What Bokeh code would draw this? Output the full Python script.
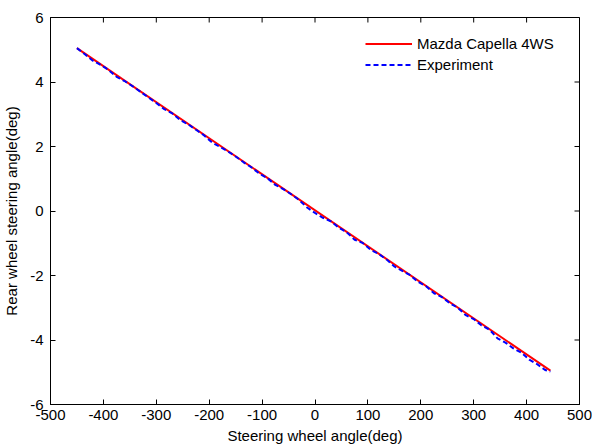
import math
from bokeh.plotting import figure
from bokeh.models import FixedTicker, Legend, LegendItem, Range1d
from bokeh.embed import file_html
from bokeh.resources import INLINE

# ---- data ----
model_x = [-450, 445]
model_y = [5.05, -4.95]

exp_x = [-450, -435, -420, -405, -390, -375, -360, -345, -330, -315, -300, -285,
         -270, -255, -240, -225, -210, -195, -180, -165, -150, -135, -120, -105,
         -90, -75, -60, -45, -30, -15, 0, 15, 30, 45, 60, 75, 90, 105, 120, 135,
         150, 165, 180, 195, 210, 225, 240, 255, 270, 285, 300, 315, 330, 345,
         360, 375, 390, 405, 420, 435, 445]
exp_y = [5.05, 4.86, 4.66, 4.53, 4.37, 4.16, 4.03, 3.87, 3.70, 3.52, 3.35, 3.16,
         3.03, 2.82, 2.69, 2.52, 2.35, 2.13, 1.99, 1.85, 1.69, 1.51, 1.35, 1.16,
         1.02, 0.81, 0.68, 0.52, 0.34, 0.11, -0.06, -0.21, -0.32, -0.52, -0.66,
         -0.89, -0.99, -1.20, -1.33, -1.50, -1.72, -1.86, -1.99, -2.20, -2.33,
         -2.55, -2.67, -2.86, -3.00, -3.23, -3.35, -3.55, -3.68, -3.95, -4.08,
         -4.26, -4.39, -4.61, -4.75, -4.93, -4.98]

x_ticks = [-500, -400, -300, -200, -100, 0, 100, 200, 300, 400, 500]
x_tick_labels = ["-500", "-400", "-300", "-200", "-100", "0", "100", "200",
                 "300", "400", "500"]
y_ticks = [-6, -4, -2, 0, 2, 4, 6]
y_tick_labels = ["-6", "-4", "-2", "0", "2", "4", "6"]

series_names = ["Mazda Capella 4WS", "Experiment"]
x_label = "Steering wheel angle(deg)"
y_label = "Rear wheel steering angle(deg)"

X_MIN, X_MAX = -500, 500
Y_MIN, Y_MAX = -6, 6

FONT = "Liberation Sans"
FS = "15px"

p = figure(width=592, height=448, output_backend="svg", toolbar_location=None,
           x_range=Range1d(X_MIN, X_MAX), y_range=Range1d(Y_MIN, Y_MAX),
           min_border_left=50, min_border_right=13, min_border_top=17,
           min_border_bottom=44, background_fill_color="white",
           border_fill_color="white")
p.grid.visible = False
p.outline_line_color = "black"
p.outline_line_width = 1

r1 = p.line(model_x, model_y, line_color="#ff0000", line_width=2)
r2 = p.line(exp_x, exp_y, line_color="#0000ff", line_width=2, line_dash="5 3")

# inward ticks on the top and right edges (half of each dash is clipped by the frame)
p.scatter(x_ticks, [Y_MAX] * len(x_ticks), marker="dash", size=10,
          angle=math.pi / 2, line_color="black", line_width=1)
p.scatter([X_MAX] * len(y_ticks), y_ticks, marker="dash", size=10,
          line_color="black", line_width=1)

def style_axis(ax, ticks, labels):
    ax.ticker = FixedTicker(ticks=ticks)
    ax.major_label_overrides = {t: s for t, s in zip(ticks, labels)}
    ax.major_tick_in = 5
    ax.major_tick_out = 0
    ax.minor_tick_line_color = None
    ax.axis_line_color = "black"
    ax.major_tick_line_color = "black"
    ax.major_label_text_font = FONT
    ax.major_label_text_font_size = FS
    ax.major_label_text_color = "black"
    ax.axis_label_text_font = FONT
    ax.axis_label_text_font_size = FS
    ax.axis_label_text_font_style = "normal"
    ax.axis_label_text_color = "black"

style_axis(p.xaxis[0], x_ticks, x_tick_labels)
style_axis(p.yaxis[0], y_ticks, y_tick_labels)
p.xaxis[0].axis_label = x_label
p.yaxis[0].axis_label = y_label
p.xaxis[0].major_label_standoff = 5
p.xaxis[0].axis_label_standoff = 4
p.yaxis[0].major_label_standoff = 7
p.yaxis[0].axis_label_standoff = 7

legend = Legend(items=[LegendItem(label=series_names[0], renderers=[r1]),
                       LegendItem(label=series_names[1], renderers=[r2])],
                location=(315, 329), padding=0, margin=0, spacing=0,
                glyph_width=47, glyph_height=21, label_standoff=5,
                label_text_font=FONT, label_text_font_size=FS,
                label_text_color="black", border_line_color=None,
                background_fill_alpha=0)
p.add_layout(legend)

open("out.html", "w").write(file_html(p, INLINE))
